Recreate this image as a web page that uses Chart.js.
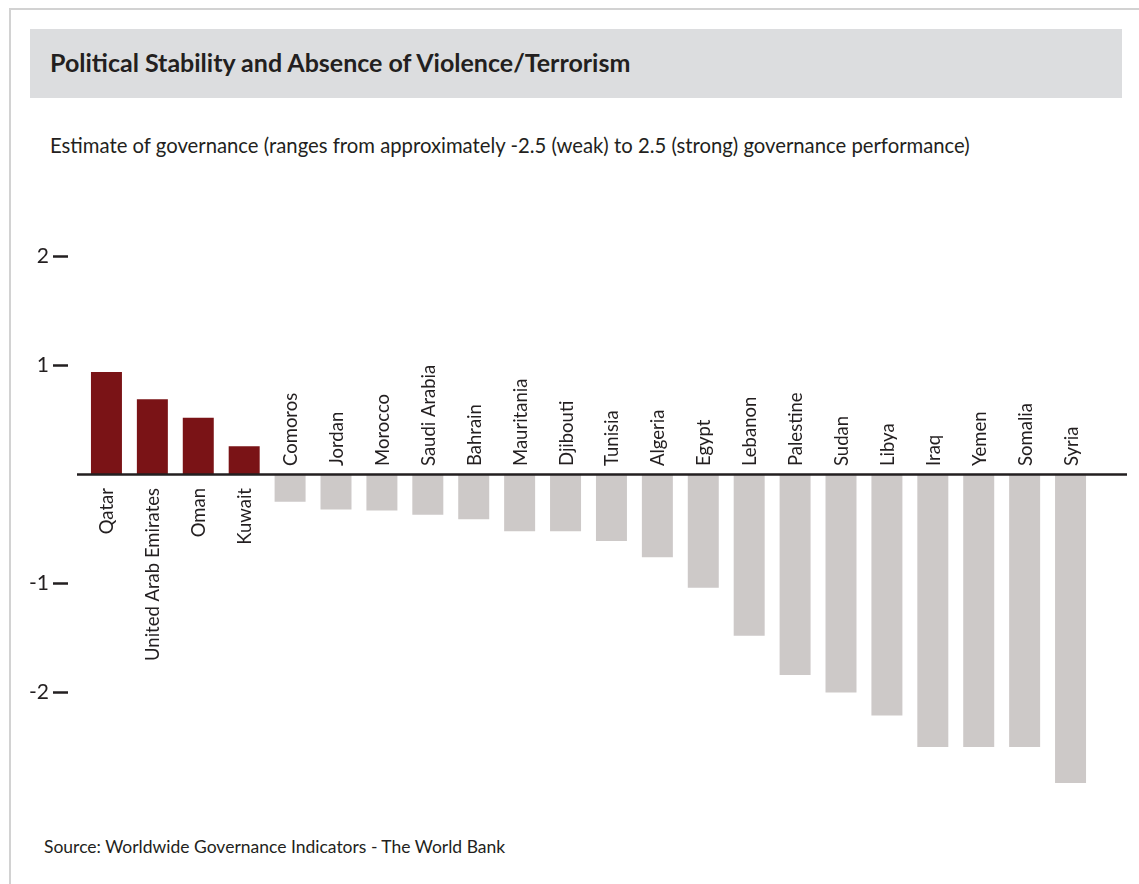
<!DOCTYPE html>
<html>
<head>
<meta charset="utf-8">
<title>Political Stability and Absence of Violence/Terrorism</title>
<script src="https://cdn.jsdelivr.net/npm/chart.js@4.4.1/dist/chart.umd.min.js"></script>
<style>
  html, body { margin: 0; padding: 0; background: #fff; }
  body { width: 1139px; height: 884px; position: relative; overflow: hidden;
         font-family: Lato, "Open Sans", sans-serif; color: #231f20; }
  #frame { position: absolute; left: 9px; top: 8px; width: 1150px; height: 900px;
           border-top: 2px solid #d2d2d2; border-left: 2px solid #d2d2d2; }
  #band { position: absolute; left: 30px; top: 29px; width: 1092px; height: 69px; background: #dcdddf; }
  #title { position: absolute; left: 50px; top: 28px; height: 69px; line-height: 69px;
           font-weight: bold; font-size: 25px; white-space: nowrap; }
  #sub { position: absolute; left: 50px; top: 130px; font-size: 20.3px; line-height: 30px; white-space: nowrap; }
  #src { position: absolute; left: 44px; top: 833px; font-size: 17.5px; line-height: 28px; white-space: nowrap; }
  #chart { position: absolute; left: 0; top: 0; }
</style>
</head>
<body>
<div id="frame"></div>
<div id="band"></div>
<div id="title">Political Stability and Absence of Violence/Terrorism</div>
<div id="sub">Estimate of governance (ranges from approximately -2.5 (weak) to 2.5 (strong) governance performance)</div>
<div id="src">Source: Worldwide Governance Indicators - The World Bank</div>
<canvas id="chart" width="1139" height="884"></canvas>
<script>
// Countries, left to right
const countries = [
  'Qatar', 'United Arab Emirates', 'Oman', 'Kuwait', 'Comoros', 'Jordan',
  'Morocco', 'Saudi Arabia', 'Bahrain', 'Mauritania', 'Djibouti', 'Tunisia',
  'Algeria', 'Egypt', 'Lebanon', 'Palestine', 'Sudan', 'Libya', 'Iraq',
  'Yemen', 'Somalia', 'Syria'
];

// Governance estimate per country
const scores = [
  0.94, 0.69, 0.52, 0.26, -0.25, -0.32,
  -0.33, -0.37, -0.41, -0.52, -0.52, -0.61,
  -0.76, -1.04, -1.48, -1.84, -2.00, -2.21, -2.50,
  -2.50, -2.50, -2.83
];

// Labelled values on the vertical axis
const yTicks = [2, 1, -1, -2];

const INK = '#231f20';
const POS = '#7a1316';
const NEG = '#cdc9c8';
const LABEL_FONT = '18.5px Lato, "Open Sans", sans-serif';

// Short dashes next to the value labels
const tickDashes = {
  id: 'tickDashes',
  afterDraw(chart) {
    const { ctx } = chart;
    const y = chart.scales.y;
    ctx.save();
    ctx.fillStyle = INK;
    yTicks.forEach(v => {
      const py = y.getPixelForValue(v);
      ctx.fillRect(53, py - 1.25, 15, 2.5);
    });
    ctx.restore();
  }
};

// Zero baseline running past the bars
const zeroLine = {
  id: 'zeroLine',
  afterDatasetsDraw(chart) {
    const { ctx, chartArea } = chart;
    const y0 = chart.scales.y.getPixelForValue(0);
    ctx.save();
    ctx.fillStyle = INK;
    ctx.fillRect(chartArea.left - 6.5, y0 - 1.25, chartArea.right - chartArea.left + 40, 2.5);
    ctx.restore();
  }
};

// Rotated country names on the opposite side of the baseline from each bar
const countryLabels = {
  id: 'countryLabels',
  afterDraw(chart) {
    const { ctx } = chart;
    const x = chart.scales.x;
    const y0 = chart.scales.y.getPixelForValue(0);
    ctx.save();
    ctx.fillStyle = INK;
    ctx.font = LABEL_FONT;
    ctx.textBaseline = 'middle';
    countries.forEach((name, i) => {
      const px = x.getPixelForValue(i) + 1;
      ctx.save();
      if (scores[i] >= 0) {
        ctx.translate(px, y0 + 13.5);
        ctx.rotate(-Math.PI / 2);
        ctx.textAlign = 'right';
      } else {
        ctx.translate(px, y0 - 8.5);
        ctx.rotate(-Math.PI / 2);
        ctx.textAlign = 'left';
      }
      ctx.fillText(name, 0, 0);
      ctx.restore();
    });
    ctx.restore();
  }
};

new Chart(document.getElementById('chart'), {
  type: 'bar',
  data: {
    labels: countries,
    datasets: [{
      data: scores,
      backgroundColor: scores.map(v => v >= 0 ? POS : NEG),
      borderWidth: 0,
      barPercentage: 0.675,
      categoryPercentage: 1
    }]
  },
  options: {
    responsive: false,
    animation: false,
    devicePixelRatio: 1,
    layout: { padding: { left: 0, top: 202, right: 45.5, bottom: 82.5 } },
    plugins: { legend: { display: false }, tooltip: { enabled: false }, title: { display: false } },
    scales: {
      x: { type: 'category', display: false, grid: { display: false } },
      y: {
        min: -3,
        max: 2.5,
        position: 'left',
        border: { display: false },
        grid: { display: false, drawTicks: false },
        afterBuildTicks(scale) { scale.ticks = yTicks.map(v => ({ value: v })); },
        afterFit(scale) { scale.width = 83.5; },
        ticks: {
          padding: 34.5,
          color: INK,
          font: { family: 'Lato, "Open Sans", sans-serif', size: 21 },
          callback: v => String(v)
        }
      }
    }
  },
  plugins: [zeroLine, tickDashes, countryLabels]
});
</script>
</body>
</html>
